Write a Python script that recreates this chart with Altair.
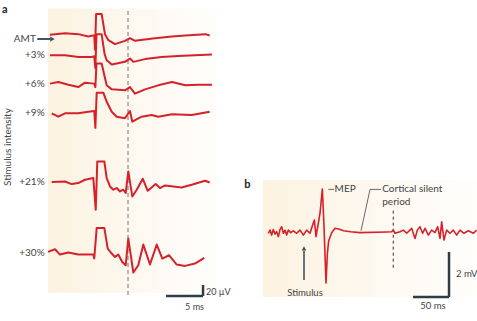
import altair as alt
import pandas as pd

# ---------------- Panel a: EMG traces (time in ms from stimulus, voltage in µV from baseline)
trace_names = ["AMT", "+3%", "+6%", "+9%", "+21%", "+30%"]
trace_offsets_uV = [483, 445, 393, 340, 215, 85]

amt_t = [-6.1, -4.05, -2.26, -0.91, -0.31, -0.1, 0.0, 0.15, 0.9, 1.35, 1.76, 2.7, 4.05, 4.73, 5.4, 8.1, 10.4, 12.2, 14.9, 15.5]
amt_v = [-0.9, 2.2, 0.4, -4.0, -2.2, -2.0, -28, 37, 37, 0, -10, -17.8, -11.8, -6.9, -11.8, -6.9, -4.0, -2.2, 0.4, -2.2]

p3_t = [-6.08, -4.05, -2.26, -0.45, -0.1, 0.05, 0.2, 0.9, 1.3, 1.58, 2.26, 4.05, 4.73, 5.18, 6.76, 9.0, 11.25, 13.5, 15.8]
p3_v = [0, 0, -3, -3, -2, -23.6, 38, 38, 2, -9, -17, -12, -6, -12, -7, -3, -1.3, 0, 1.3]

p6_t = [-6.08, -4.96, -3.6, -2.26, -1.35, -0.1, 0.05, 0.2, 0.9, 1.26, 1.58, 2.26, 4.05, 4.73, 5.4, 6.76, 8.55, 10.4, 12.2, 14.0, 15.8]
p6_v = [0.4, 3.3, -1.5, -5.8, 2.2, 0.4, -6, 37, 37, 15.5, -2.7, -10, -11.8, -5.8, -17.8, -10, -2.7, 3.3, -2.7, -1.5, -1.5]

p9_t = [-5.85, -4.96, -4.05, -2.26, -0.91, -0.1, 0.05, 0.23, 1.12, 1.58, 2.26, 2.93, 4.05, 4.73, 5.04, 6.3, 7.66, 8.55, 10.4, 13.07, 15.5]
p9_v = [-0.5, -6.7, -0.5, -0.5, 2.4, 3.6, -27, 37, 37, 20.5, 2.4, -6.7, -9.6, 3.6, -15.8, -6.7, -3.6, -6.7, -2.4, -3.6, 2.4]

p21_t = [-5.85, -4.05, -3.15, -2.26, -1.35, -0.23, 0.1, 0.31, 1.26, 1.58, 2.03, 2.47, 2.93, 3.38, 3.82, 4.15, 4.5, 5.04, 5.64, 6.45, 7.12, 7.66, 8.2, 8.78, 9.46, 10.58, 11.7, 13.07, 14.86, 15.5]
p21_v = [-0.5, 0.5, -4.2, -2.4, 3.6, 6.7, -51, 37, 37, 6.7, -8.5, -14.5, -11.5, -17.6, -14.5, -20.5, 18.7, -26.7, -14.5, 5.5, -16.4, -10.4, -4.2, -11.5, -6.7, -8.5, -10.4, -5.5, 1.8, -1.3]

p30_t = [-6.35, -5.4, -4.73, -3.6, -2.26, -0.23, -0.1, 0.23, 1.26, 1.72, 2.26, 2.7, 3.15, 3.69, 4.15, 4.5, 5.18, 5.85, 6.53, 7.43, 8.34, 9.1, 10.0, 11.04, 12.16, 13.5, 14.77]
p30_v = [2.4, 7.3, -2.4, 1.3, -2.4, -2.4, -9.6, 46, 46, 8.5, -0.5, -6.7, -2.4, -15.8, -21.8, 26.7, -35, -21.8, 15.8, -20.5, 15.8, -9.6, -3.6, -20.5, -23, -18.7, -8.5]

a_dashed_t = 4.46
a_scalebar_ms = 5
a_scalebar_uV = 20

# ---------------- Panel b: MEP and silent period (time in ms from stimulus, voltage in mV)
b_t = [-49.5, -47.2, -44.9, -42.6, -40.3, -38.0, -35.6, -33.3, -31.0, -28.7, -26.4, -24.1, -21.8, -18.5, -14.8,
       -10.2, -5.6, -0.9, 3.7, 8.3, 12.0, 14.4, 16.7, 19.9, 22.2, 25.5, 27.6, 30.6, 32.4, 34.3, 38.4, 43.1, 48.0,
       55.0, 65.0, 77.8, 114.8, 121.8, 124.1, 126.4, 133.3, 138.0, 142.6, 149.5, 154.2, 157.4, 161.1, 164.8,
       168.1, 172.7, 177.3, 181.9, 185.6, 188.9, 191.2, 194.4, 198.1, 202.8, 207.4, 212.0, 216.7, 222.2, 228.2,
       235.2, 239.8]
b_v = [-0.07, 0.07, -0.15, 0.10, -0.10, 0.0, -0.22, 0.10, 0.22, -0.07, 0.07, -0.15, 0.07, -0.04, 0.04,
       -0.07, 0.07, -0.15, 0.07, -0.07, 0.30, 0.52, -0.22, 0.37, 0.81, 1.90, 0.37, -2.28, -1.0, -0.4, -0.05, 0.15, 0.12,
       0.04, 0.0, -0.04, -0.01, 0.0, 0.07, -0.07, 0.0, 0.07, -0.07, 0.15, -0.30, 0.07, 0.22, -0.07,
       0.15, -0.15, 0.07, -0.04, 0.22, -0.30, 0.44, -0.37, 0.07, -0.07, 0.07, -0.15, 0.07, -0.07, 0.04,
       -0.07, 0.07]
b_dashed_t = 124
b_scalebar_ms = 50
b_scalebar_mV = 2
silent_leader_t = [79.2, 91.7, 106.9]
silent_leader_v = [0.04, 1.88, 1.88]

RED = "#d5222a"
DARK = "#2e3d46"
TXT = "#444444"
FONT = "Lato"

# ---------------- tables
series = [amt_t, p3_t, p6_t, p9_t, p21_t, p30_t]
values = [amt_v, p3_v, p6_v, p9_v, p21_v, p30_v]
rows = []
for name, off, ts, vs in zip(trace_names, trace_offsets_uV, series, values):
    for i, (t, v) in enumerate(zip(ts, vs)):
        rows.append({"trace": name, "i": i, "t": t, "y": v + off})
df_a = pd.DataFrame(rows)

df_b = pd.DataFrame({"t": b_t, "v": b_v, "i": list(range(len(b_t)))})

xa = alt.Scale(domain=[-6, 16], range=[50.6, 213.4])
ya = alt.Scale(domain=[0, 530], range=[300, 8.5])
xb = alt.Scale(domain=[-50, 240], range=[268, 476.8])
yb = alt.Scale(domain=[-3, 3], range=[299.2, 164.2])


def X(f, s):
    return alt.X(f, type="quantitative", scale=s, axis=None)


def Y(f, s):
    return alt.Y(f, type="quantitative", scale=s, axis=None)


def grad():
    return alt.LinearGradient(
        gradient="linear",
        stops=[alt.GradientStop(offset=0, color="#fcf2e0"),
               alt.GradientStop(offset=0.5, color="#fdf8ef"),
               alt.GradientStop(offset=1, color="#fffefc")],
        x1=0, x2=1, y1=0, y2=0)


# ---------------- panel a layers
bg_a = alt.Chart(pd.DataFrame({"t0": [-6.35], "t1": [16.4], "v0": [12.7], "v1": [530]})).mark_rect(fill=grad()).encode(
    x=X("t0", xa), x2="t1", y=Y("v0", ya), y2="v1")

dash_a = alt.Chart(pd.DataFrame({"t": [a_dashed_t], "v0": [9], "v1": [531]})).mark_rule(
    color="#8c8c8c", strokeDash=[4, 3], strokeWidth=1.2).encode(x=X("t", xa), y=Y("v0", ya), y2="v1")

lines_a = alt.Chart(df_a).mark_line(color=RED, strokeWidth=2, strokeJoin="round").encode(
    x=X("t", xa), y=Y("y", ya), detail="trace:N", order="i:Q")

lab_df = pd.DataFrame({"t": [-8.0] + [-6.8] * 5,
                       "y": [trace_offsets_uV[0] - 8.5] + trace_offsets_uV[1:],
                       "text": trace_names})
labels_a = alt.Chart(lab_df).mark_text(align="right", baseline="middle", font=FONT, fontSize=10, color=TXT).encode(
    x=X("t", xa), y=Y("y", ya), text="text:N")

amt_arrow = alt.Chart(pd.DataFrame({"t0": [-7.8], "t1": [-6.0], "y": [trace_offsets_uV[0] - 8.5]})).mark_rule(
    color="#3d5560", strokeWidth=2).encode(x=X("t0", xa), x2="t1", y=Y("y", ya))
amt_head = alt.Chart(pd.DataFrame({"t": [-5.75], "y": [trace_offsets_uV[0] - 8.5]})).mark_point(
    shape="triangle-right", filled=True, size=28, color="#3d5560", opacity=1).encode(x=X("t", xa), y=Y("y", ya))

sb_a = pd.DataFrame({"t0": [14.6 - a_scalebar_ms, 14.6], "t1": [14.6, 14.6],
                     "v0": [7.3, 7.3], "v1": [7.3, 7.3 + a_scalebar_uV]})
scale_a = alt.Chart(sb_a).mark_rule(color=DARK, strokeWidth=2.5).encode(
    x=X("t0", xa), x2="t1", y=Y("v0", ya), y2="v1")

txt_a = pd.DataFrame({"t": [15.0, 13.45], "y": [15, -12.2], "text": ["20 µV", "5 ms"]})
sbtext_a1 = alt.Chart(txt_a.iloc[[0]]).mark_text(align="left", baseline="middle", font=FONT, fontSize=9, color=TXT).encode(
    x=X("t", xa), y=Y("y", ya), text="text:N")
sbtext_a2 = alt.Chart(txt_a.iloc[[1]]).mark_text(align="center", baseline="middle", font=FONT, fontSize=9, color=TXT).encode(
    x=X("t", xa), y=Y("y", ya), text="text:N")

letter_a = alt.Chart(pd.DataFrame({"t": [-12.57], "y": [527], "text": ["a"]})).mark_text(
    align="left", baseline="middle", font=FONT, fontSize=11, fontWeight="bold", color="#222").encode(
    x=X("t", xa), y=Y("y", ya), text="text:N")

ytitle_a = alt.Chart(pd.DataFrame({"t": [-11.76], "y": [278], "text": ["Stimulus intensity"]})).mark_text(
    align="center", baseline="middle", angle=270, font=FONT, fontSize=10, color=TXT).encode(
    x=X("t", xa), y=Y("y", ya), text="text:N")

panel_a = alt.layer(bg_a, dash_a, lines_a, labels_a, amt_arrow, amt_head, scale_a, sbtext_a1, sbtext_a2,
                    letter_a, ytitle_a)

# ---------------- panel b layers
bg_b = alt.Chart(pd.DataFrame({"t0": [-57], "t1": [241], "v0": [-2.9], "v1": [2.3]})).mark_rect(fill=grad()).encode(
    x=X("t0", xb), x2="t1", y=Y("v0", yb), y2="v1")

dash_b = alt.Chart(pd.DataFrame({"t": [b_dashed_t], "v0": [-1.6], "v1": [0.96]})).mark_rule(
    color="#333333", strokeDash=[3, 3], strokeWidth=1).encode(x=X("t", xb), y=Y("v0", yb), y2="v1")

line_b = alt.Chart(df_b).mark_line(color=RED, strokeWidth=1.6, strokeJoin="round").encode(
    x=X("t", xb), y=Y("v", yb), order="i:Q")

mep_leader = alt.Chart(pd.DataFrame({"t0": [33.8], "t1": [41.7], "v": [1.88]})).mark_rule(
    color="#444444", strokeWidth=0.8).encode(x=X("t0", xb), x2="t1", y=Y("v", yb))
silent_leader = alt.Chart(pd.DataFrame({"t": silent_leader_t, "v": silent_leader_v, "i": [0, 1, 2]})).mark_line(
    color="#444444", strokeWidth=0.8).encode(x=X("t", xb), y=Y("v", yb), order="i:Q")

ann_b = pd.DataFrame({"t": [42.5, 108.7, 108.7], "v": [1.88, 1.88, 1.33],
                      "text": ["MEP", "Cortical silent", "period"]})
ann_text_b = alt.Chart(ann_b).mark_text(align="left", baseline="middle", font=FONT, fontSize=10, color=TXT).encode(
    x=X("t", xb), y=Y("v", yb), text="text:N")

stim_arrow = alt.Chart(pd.DataFrame({"t": [0], "v0": [-2.15], "v1": [-0.85]})).mark_rule(
    color="#3d5560", strokeWidth=1.6).encode(x=X("t", xb), y=Y("v0", yb), y2="v1")
stim_head = alt.Chart(pd.DataFrame({"t": [0], "v": [-0.74]})).mark_point(
    shape="triangle-up", filled=True, size=22, color="#3d5560", opacity=1).encode(x=X("t", xb), y=Y("v", yb))

sb_b = pd.DataFrame({"t0": [201.4 - b_scalebar_ms, 201.4], "t1": [201.4, 201.4],
                     "v0": [-2.9, -2.9], "v1": [-2.9, -2.9 + b_scalebar_mV]})
scale_b = alt.Chart(sb_b).mark_rule(color=DARK, strokeWidth=2.5).encode(
    x=X("t0", xb), x2="t1", y=Y("v0", yb), y2="v1")

txt_b = pd.DataFrame({"t": [226, 179.2, 1.4], "v": [-1.89, -3.29, -2.72], "text": ["2 mV", "50 ms", "Stimulus"]})
text_b = alt.Chart(txt_b).mark_text(align="center", baseline="middle", font=FONT, fontSize=9.5, color=TXT).encode(
    x=X("t", xb), y=Y("v", yb), text="text:N")

letter_b = alt.Chart(pd.DataFrame({"t": [-83], "v": [2.07], "text": ["b"]})).mark_text(
    align="left", baseline="middle", font=FONT, fontSize=11, fontWeight="bold", color="#222").encode(
    x=X("t", xb), y=Y("v", yb), text="text:N")

panel_b = alt.layer(bg_b, dash_b, line_b, mep_leader, silent_leader, ann_text_b, stim_arrow, stim_head,
                    scale_b, text_b, letter_b)

chart = alt.layer(panel_a, panel_b).resolve_scale(x="independent", y="independent").properties(
    width=477, height=321, padding=0, background="white",
    autosize=alt.AutoSizeParams(type="none")
).configure_view(stroke=None)

chart.save("out.html", embed_options={"renderer": "svg", "actions": False})
